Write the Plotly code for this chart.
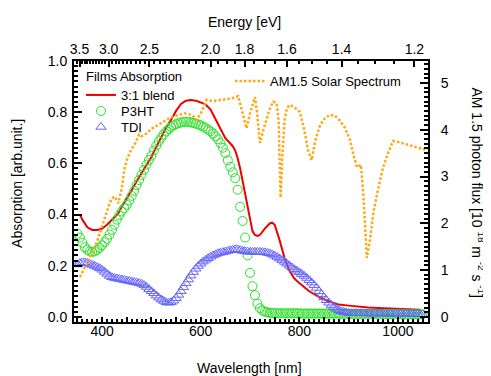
import numpy as np
import plotly.graph_objects as go

# marker series sampled every 5 nm
wl = np.arange(350, 1051, 5)

p3ht = [0.325, 0.31, 0.29, 0.272, 0.262, 0.256, 0.254, 0.256, 0.262, 0.27,
        0.28, 0.292, 0.305, 0.322, 0.34, 0.36, 0.38, 0.397, 0.412, 0.425,
        0.438, 0.455, 0.473, 0.493, 0.515, 0.535, 0.555, 0.575, 0.595, 0.613,
        0.63, 0.65, 0.67, 0.686, 0.70, 0.713, 0.725, 0.734, 0.742, 0.748,
        0.753, 0.757, 0.76, 0.762, 0.763, 0.762, 0.76, 0.758, 0.755, 0.752,
        0.748, 0.743, 0.738, 0.732, 0.725, 0.716, 0.706, 0.694, 0.679, 0.661,
        0.64, 0.612, 0.587, 0.565, 0.542, 0.497, 0.43, 0.375, 0.31, 0.24,
        0.172, 0.12, 0.085, 0.052, 0.034, 0.025, 0.02, 0.018, 0.016, 0.015,
        0.015,
        0.014, 0.014, 0.014, 0.014, 0.014, 0.014, 0.014, 0.014, 0.014, 0.014,
        0.013, 0.013, 0.013, 0.013, 0.013, 0.013, 0.013, 0.013,
        0.013, 0.013, 0.013, 0.013, 0.013, 0.013, 0.013, 0.013,
        0.012, 0.012, 0.012, 0.012, 0.012, 0.012, 0.012, 0.012,
        0.012, 0.012, 0.012, 0.012, 0.012, 0.012, 0.012, 0.012,
        0.011, 0.011, 0.011, 0.011, 0.011, 0.011, 0.011, 0.011, 0.011, 0.011,
        0.010, 0.010, 0.010, 0.010, 0.010, 0.010, 0.010, 0.010]

tdi = [0.205, 0.21, 0.213, 0.213, 0.211, 0.207, 0.203, 0.199, 0.195, 0.19,
       0.184, 0.176, 0.168, 0.16, 0.155, 0.152, 0.15, 0.148, 0.146, 0.144,
       0.142, 0.14, 0.138, 0.136, 0.134, 0.132, 0.129, 0.124, 0.117, 0.108,
       0.1, 0.092, 0.083, 0.075, 0.068, 0.062, 0.057, 0.055, 0.057, 0.063,
       0.073, 0.086, 0.1, 0.116, 0.131, 0.146, 0.161, 0.175, 0.188, 0.199,
       0.208, 0.216, 0.223, 0.229, 0.235, 0.24, 0.244, 0.248, 0.251, 0.253,
       0.255, 0.258, 0.26, 0.262, 0.264, 0.264, 0.261, 0.258, 0.256, 0.255,
       0.254, 0.254, 0.254, 0.254, 0.254, 0.253, 0.252, 0.25, 0.248, 0.244,
       0.239, 0.234, 0.228, 0.222, 0.215, 0.208, 0.2, 0.193, 0.186, 0.18,
       0.174, 0.167, 0.16, 0.152, 0.143, 0.134, 0.124, 0.113, 0.1, 0.088,
       0.076, 0.065, 0.055, 0.046, 0.038, 0.031, 0.026, 0.022, 0.019, 0.017,
       0.015,
       0.014, 0.014, 0.014, 0.014, 0.014, 0.014,
       0.013, 0.013, 0.013, 0.013, 0.013, 0.013, 0.013, 0.013,
       0.012, 0.012, 0.012, 0.012, 0.012, 0.012,
       0.011, 0.011, 0.011, 0.011, 0.011, 0.011,
       0.010, 0.010, 0.010, 0.010]

# blend film, read at irregular wavelengths
blend_wl = [355, 360, 370, 380, 390, 400, 410, 420,
            433, 440, 450, 460, 470, 480, 490, 500,
            510, 520, 530, 540, 550, 560, 570, 580,
            590, 600, 610, 620, 630, 640, 650, 660,
            665, 670, 675, 680, 685, 690, 695, 700,
            705, 710, 715, 720, 730, 740, 745, 750,
            760, 770, 780, 790, 800, 820, 840, 860,
            880, 900, 920, 940, 960, 980, 1000, 1020,
            1040, 1045]
blend = [0.40, 0.38, 0.35, 0.34, 0.34, 0.345, 0.36, 0.38,
         0.405, 0.43, 0.46, 0.495, 0.53, 0.56, 0.595, 0.625,
         0.665, 0.705, 0.74, 0.77, 0.805, 0.832, 0.845, 0.848,
         0.845, 0.838, 0.83, 0.81, 0.775, 0.735, 0.698, 0.678,
         0.667, 0.65, 0.62, 0.58, 0.53, 0.477, 0.42, 0.37,
         0.335, 0.32, 0.316, 0.32, 0.345, 0.365, 0.368, 0.36,
         0.30, 0.23, 0.18, 0.15, 0.132, 0.1, 0.078, 0.06,
         0.048, 0.044, 0.04, 0.037, 0.035, 0.034, 0.033, 0.031,
         0.029, 0.028]

# AM1.5 photon flux [1e18 m^-2 s^-1]
am_wl = [355, 360, 370, 380, 390, 400, 409, 415,
         420, 426, 433, 440, 445, 450, 457, 467,
         475, 480, 490, 500, 510, 520, 535, 550,
         568, 582, 592, 602, 612, 620, 629, 643,
         655, 663, 676, 684, 693, 700, 710, 715,
         720, 730, 740, 747, 754, 758, 762, 765,
         770, 775, 781, 790, 801, 810, 818, 825,
         832, 842, 852, 862, 872, 882, 892, 903,
         910, 917, 925, 930, 937, 944, 950, 957,
         964, 970, 980, 990, 1000, 1010, 1020, 1030,
         1045, 1060]
am_flux = [0.85, 0.95, 1.15, 1.38, 1.62, 1.95, 2.22, 2.42,
           2.54, 2.57, 2.43, 2.75, 3.15, 3.35, 3.53, 3.71,
           3.9, 3.86, 3.92, 4.02, 4.08, 4.15, 4.24, 4.3,
           4.35, 4.32, 4.21, 4.39, 4.64, 4.62, 4.62, 4.64,
           4.66, 4.67, 4.72, 4.4, 4.03, 4.35, 4.7, 4.3,
           3.72, 4.1, 4.45, 4.6, 4.57, 4.2, 2.55, 3.3,
           4.2, 4.47, 4.53, 4.48, 4.38, 4.0, 3.55, 3.35,
           3.75, 4.1, 4.25, 4.32, 4.3, 4.2, 4.05, 3.78,
           3.45, 3.2, 3.25, 2.6, 1.26, 1.7, 2.2, 2.6,
           2.93, 3.2, 3.5, 3.76, 3.74, 3.71, 3.68, 3.65,
           3.6, 3.56]

energy_labels = [3.5, 3.0, 2.5, 2.0, 1.8, 1.6, 1.4, 1.2]

xr = [343, 1061]
yr = [-0.02, 1.0]
yr2 = [v * 5.47 for v in yr]
font = "Liberation Sans, Arial, sans-serif"

fig = go.Figure()
fig.add_trace(go.Scatter(x=blend_wl, y=blend, mode="lines", name="3:1 blend", legend="legend",
                         showlegend=True, line=dict(color="rgb(238,0,0)", width=2)))
fig.add_trace(go.Scatter(x=wl, y=p3ht, mode="markers", name="P3HT", legend="legend3",
                         marker=dict(symbol="circle-open", size=9, color="rgb(40,225,40)",
                                     line=dict(width=1))))
fig.add_trace(go.Scatter(x=wl, y=tdi, mode="markers", name="TDI", legend="legend4",
                         marker=dict(symbol="triangle-up-open", size=9, color="rgb(100,100,255)",
                                     line=dict(width=1))))
fig.add_trace(go.Scatter(x=am_wl, y=am_flux, mode="lines", name="AM1.5 Solar Spectrum",
                         xaxis="x2", yaxis="y2", legend="legend2",
                         line=dict(color="rgb(255,168,20)", width=2.5, dash="2.5px,2px")))

# energy axis ticks placed at the matching wavelengths
e_minor = [round(3.6 - 0.05 * i, 2) for i in range(49)]
e_minor = [e for e in e_minor if e not in energy_labels]

axis_common = dict(showline=True, linecolor="black", linewidth=2, ticks="inside",
                   tickcolor="black", tickwidth=1.5, showgrid=False, zeroline=False,
                   tickfont=dict(family=font, size=14, color="black"))


def entry(xp, yp):
    return dict(x=xp, y=yp, xanchor="left", yanchor="middle", bgcolor="rgba(0,0,0,0)",
                font=dict(size=13))


# the page body has an 8px margin, so margins are shifted by 8px
fig.update_layout(
    width=491, height=376,
    margin=dict(l=66, r=71, t=53, b=62),
    showlegend=True,
    paper_bgcolor="white", plot_bgcolor="white",
    font=dict(family=font, size=14, color="black"),
    xaxis=dict(range=xr, tickvals=list(range(350, 1051, 50)),
               ticktext=[str(v) if v % 200 == 0 else "" for v in range(350, 1051, 50)],
               ticklen=5, mirror=True, ticklabelstandoff=-5,
               minor=dict(dtick=10, tick0=0, ticklen=3, ticks="inside", tickcolor="black"),
               **axis_common),
    xaxis2=dict(range=xr, overlaying="x", side="top", anchor="y2",
                tickvals=[1240 / e for e in energy_labels],
                ticktext=["%.1f" % e for e in energy_labels],
                ticklen=6, ticklabelstandoff=-1,
                minor=dict(tickvals=[1240 / e for e in e_minor], ticklen=3,
                           ticks="inside", tickcolor="black"),
                **axis_common),
    yaxis=dict(range=yr, dtick=0.2, tick0=0, tickformat=".1f", ticklen=8, mirror=True,
               ticklabelstandoff=2,
               minor=dict(dtick=0.02, tick0=0, ticklen=4, ticks="inside", tickcolor="black"),
               **axis_common),
    yaxis2=dict(range=yr2, overlaying="y", side="right", anchor="x2", dtick=1, tick0=0,
                ticklen=8, ticklabelstandoff=8,
                minor=dict(dtick=0.1, tick0=0, ticklen=4, ticks="inside", tickcolor="black"),
                **axis_common),
    legend=entry(0.0198, 0.8697),
    legend3=entry(0.0198, 0.8084),
    legend4=entry(0.0198, 0.7471),
    legend2=entry(0.4407, 0.9234),
)

fig.add_annotation(text="Films Absorption", xref="paper", yref="paper", x=0.0282, y=0.9387,
                   xanchor="left", yanchor="middle", showarrow=False, font=dict(size=13))
fig.add_annotation(text="Energy [eV]", xref="paper", yref="paper", x=0.483, y=1.149,
                   xanchor="center", yanchor="middle", showarrow=False, font=dict(size=14))
fig.add_annotation(text="Wavelength [nm]", xref="paper", yref="paper", x=0.497, y=-0.176,
                   xanchor="center", yanchor="middle", showarrow=False, font=dict(size=14))
fig.add_annotation(text="Absorption [arb.unit.]", xref="paper", yref="paper", x=-0.161, y=0.529,
                   xanchor="center", yanchor="middle", textangle=-90, showarrow=False,
                   font=dict(size=14))
fig.add_annotation(text="AM 1.5 photon flux [10 <sup>18</sup> m <sup>-2</sup> s <sup>-1</sup>]",
                   xref="paper", yref="paper", x=1.14, y=0.908, xanchor="center", yanchor="top",
                   textangle=90, showarrow=False, font=dict(size=14))

fig.write_html("out.html")
